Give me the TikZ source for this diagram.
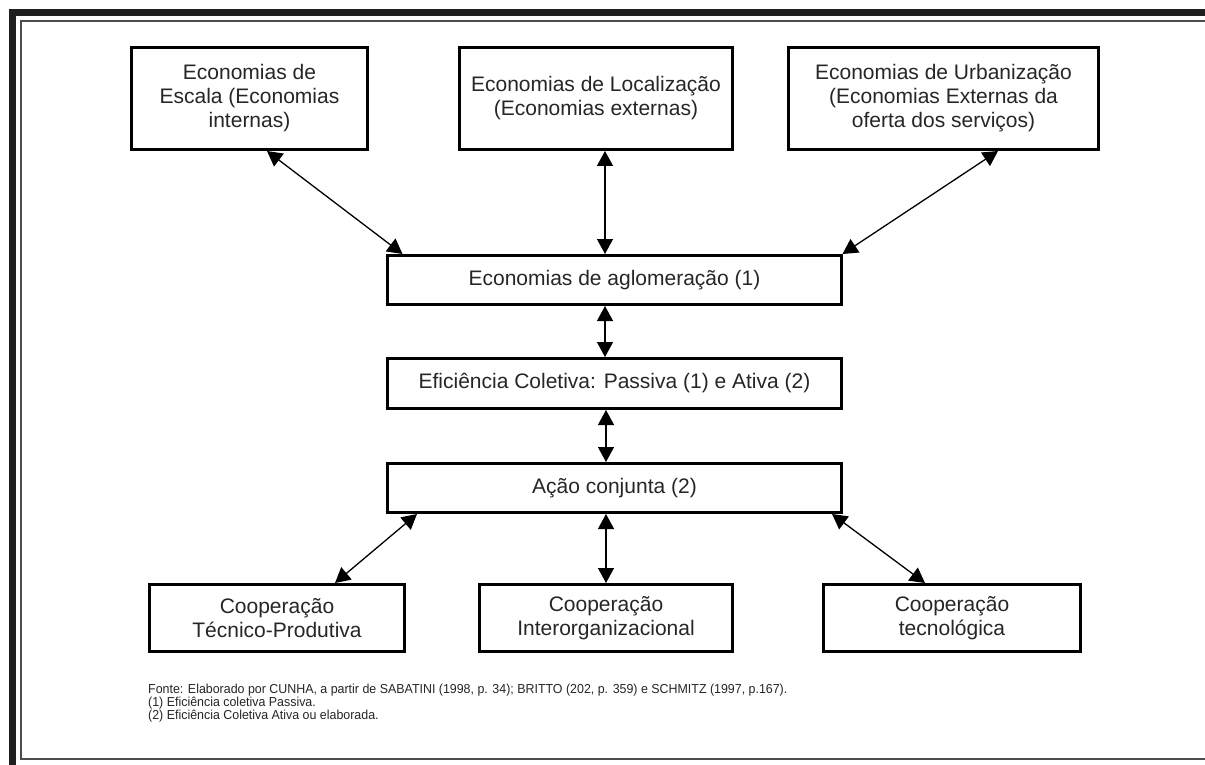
\documentclass[tikz,border=0pt]{standalone}
\usepackage{fontspec}
\setmainfont{Liberation Sans}
\newfontfamily\footfont[FakeStretch=0.955]{Liberation Sans}
\usetikzlibrary{arrows.meta,calc}
\begin{document}
\begin{tikzpicture}[x=1pt,y=-1pt,
  box/.style={draw=black,line width=3pt,align=center,inner sep=0pt,
    font=\fontsize{21}{24}\selectfont,text=black!85},
  link/.style={line width=1.3pt,
    {Triangle[length=15pt,width=16pt]}-{Triangle[length=15pt,width=16pt]}},
  thickframe/.style={line width=7pt,draw=black!88},
  thinframe/.style={line width=1.4pt,draw=black!70}]
\useasboundingbox (0,0) rectangle (1205,765);
\fill[white] (0,0) rectangle (1205,765);
% frames
\draw[thickframe] (9,12.5) -- (1205,12.5);
\draw[thickframe] (12.5,9) -- (12.5,765);
\draw[thinframe] (1205,21) -- (21,21) -- (21,759) -- (1205,759);
% top row
\node[box,minimum width=236pt,minimum height=102pt] (b1) at (249.5,98.5)
  {Economias de\\Escala (Economias\\internas)};
\node[box,minimum width=273pt,minimum height=102pt] (b2) at (596,98.5)
  {Economias de Localização\\(Economias externas)};
\node[box,minimum width=310pt,minimum height=102pt] (b3) at (943.5,98.5)
  {Economias de Urbanização\\(Economias Externas da\\oferta dos serviços)};
% middle column
\node[box,minimum width=454pt,minimum height=49pt] (ag) at (614.5,280)
  {Economias de aglomeração (1)};
\node[box,minimum width=454pt,minimum height=50pt] (ef) at (614.5,383.5)
  {Eficiência Coletiva: Passiva (1) e Ativa (2)};
\node[box,minimum width=454pt,minimum height=49pt] (ac) at (614.5,488)
  {Ação conjunta (2)};
% bottom row
\node[box,minimum width=255pt,minimum height=67pt] (c1) at (277,618)
  {Cooperação\\Técnico-Produtiva};
\node[box,minimum width=253pt,minimum height=67pt] (c2) at (606,618)
  {Cooperação\\Interorganizacional};
\node[box,minimum width=257pt,minimum height=67pt] (c3) at (952,618)
  {Cooperação\\tecnológica};
% connectors
\draw[link] ([xshift=17.5pt]b1.south) -- ([xshift=-212pt]ag.north);
\draw[link] ([xshift=9pt]b2.south) -- ([xshift=-9.5pt]ag.north);
\draw[link] ([xshift=54.5pt]b3.south) -- ([xshift=228pt]ag.north);
\draw[link] ([xshift=-9.5pt]ag.south) -- ([xshift=-9.5pt]ef.north);
\draw[link] ([xshift=-8.5pt]ef.south) -- ([xshift=-8.5pt]ac.north);
\draw[link] ([xshift=-197.5pt]ac.south) -- ([xshift=58pt]c1.north);
\draw[link] ([xshift=-8.5pt]ac.south) -- ([xshift=0pt]c2.north);
\draw[link] ([xshift=217.5pt]ac.south) -- ([xshift=-27pt]c3.north);
% footnote
\node[anchor=north west,align=left,inner sep=0pt,text=black!85,
  font=\footfont\fontsize{13}{12.8}\selectfont] (fn) at (148,684)
  {Fonte: Elaborado por CUNHA, a partir de SABATINI (1998, p. 34); BRITTO (202, p. 359) e SCHMITZ (1997, p.167).\\
   (1) Eficiência coletiva Passiva.\\
   (2) Eficiência Coletiva Ativa ou elaborada.};
\end{tikzpicture}
\end{document}
